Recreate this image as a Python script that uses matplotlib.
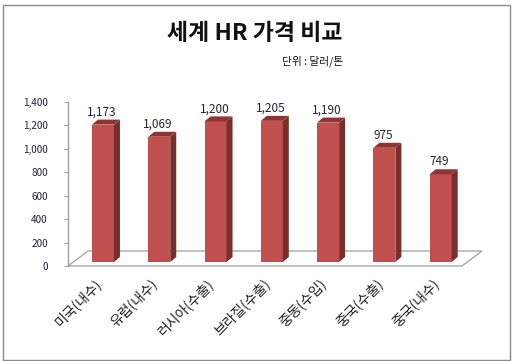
import matplotlib
matplotlib.use("Agg")
import matplotlib.pyplot as plt
from matplotlib.patches import Polygon, Rectangle

plt.rcParams['font.family'] = ['Noto Sans CJK KR', 'DejaVu Sans']

categories = ['미국(내수)', '유럽(내수)', '러시아(수출)', '브라질(수출)', '중동(수입)', '중국(수출)', '중국(내수)']
values = [1173, 1069, 1200, 1205, 1190, 975, 749]
yticks = [0, 200, 400, 600, 800, 1000, 1200, 1400]
title = '세계 HR 가격 비교'
unit = '단위 : 달러/톤'

W, H = 512, 361
fig = plt.figure(figsize=(W / 100, H / 100), dpi=100)
fig.patch.set_facecolor('white')

# chart-area border
fig.patches.append(Rectangle((2.5 / W, 1 - 359.5 / H), 507 / W, 355 / H, transform=fig.transFigure,
                             fill=False, edgecolor='#8a8a8a', linewidth=1.0))

x0, x1 = 68, 462
y0, y1 = 266, 102
ax = fig.add_axes([x0 / W, 1 - y0 / H, (x1 - x0) / W, (y0 - y1) / H])
ax.set_xlim(-0.5, len(categories) - 0.5)
ax.set_ylim(0, 1400)
ax.set_facecolor('none')

pxx = (len(categories)) / (x1 - x0)   # data units per px in x
pxy = 1400 / (y0 - y1)                # data units per px in y

for s in ['top', 'right', 'bottom']:
    ax.spines[s].set_visible(False)
ax.spines['left'].set_color('#a0a0a0')
ax.spines['left'].set_linewidth(1.0)
ax.set_yticks(yticks)
ax.set_yticklabels([f'{v:,}' for v in yticks])
ax.tick_params(axis='y', length=3, width=0.8, color='#a0a0a0', labelsize=7.2, labelcolor='#202040', pad=11.5)
ax.set_xticks([])

# floor
fdx, fdy = 20 * pxx, 15 * pxy
n = len(categories)
floor = Polygon([(-0.5, 0), (n - 0.5, 0), (n - 0.5 + fdx, fdy), (-0.5 + fdx, fdy)],
                closed=True, facecolor='white', edgecolor='#a8a8a8', linewidth=1.0, clip_on=False, zorder=1)
ax.add_patch(floor)

# bars
off = 0.121
bw = 22 * pxx
base = 4 * pxy
ddx, ddy = 6 * pxx, 5 * pxy
xs = [i + off for i in range(n)]
ax.bar(xs, values, width=bw, bottom=base, color='#C0504D', edgecolor='none', zorder=3)
for x, v in zip(xs, values):
    l, r = x - bw / 2, x + bw / 2
    top = base + v
    side = Polygon([(r, base), (r + ddx, base + ddy), (r + ddx, top + ddy), (r, top)],
                   closed=True, facecolor='#7A2E2C', edgecolor='none', clip_on=False, zorder=3)
    topf = Polygon([(l, top), (r, top), (r + ddx, top + ddy), (l + ddx, top + ddy)],
                   closed=True, facecolor='#8E3533', edgecolor='none', clip_on=False, zorder=3)
    ax.add_patch(side)
    ax.add_patch(topf)
    ax.text(x - 0.02, top + 12.5 * pxy, f'{v:,}', ha='center', va='center', fontsize=8.5,
            color='#2a2035', zorder=4, clip_on=False)

# category labels
for i, c in enumerate(categories):
    ax.text(i + 0.05, -15 * pxy, c, rotation=45, ha='right', va='center', rotation_mode='anchor',
            fontsize=10, color='#202020', clip_on=False)

fig.text(255 / W, 1 - 33 / H, title, ha='center', va='center', fontsize=16.5, fontweight='bold', color='#111111')
fig.text(343 / W, 1 - 61 / H, unit, ha='right', va='center', fontsize=7.7, color='#111111')

fig.savefig('out.png', dpi=100, facecolor='white')
